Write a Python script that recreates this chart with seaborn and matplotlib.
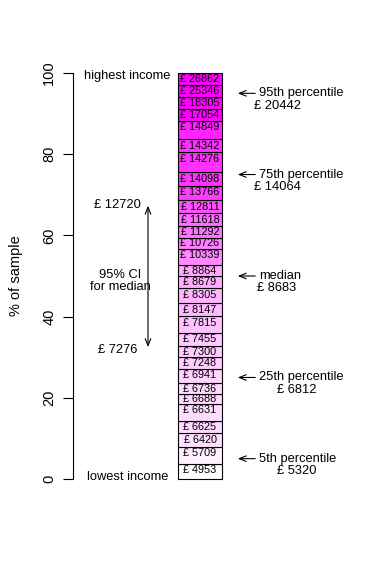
import numpy as np
import matplotlib
matplotlib.use("Agg")
import matplotlib.pyplot as plt
import seaborn as sns
from matplotlib.colors import LinearSegmentedColormap, Normalize

### incomes of the sample, lowest to highest, with the % of sample at the top of each box
incomes = [4953, 5709, 6420, 6625, 6631, 6688, 6736, 6941, 7248, 7300,
           7455, 7815, 8147, 8305, 8679, 8864, 10339, 10726, 11292, 11618,
           12811, 13766, 14098, 14276, 14342, 14849, 17054, 18305, 25346, 26862]
box_tops = [3.7, 7.9, 11.3, 14.3, 18.5, 20.9, 23.6, 27.1, 30.0, 32.8,
            36.0, 40.1, 43.3, 47.0, 50.0, 52.7, 56.7, 59.4, 62.3, 65.5,
            68.7, 72.2, 75.6, 80.5, 83.7, 88.2, 91.1, 94.1, 97.0, 100.0]

### percentiles shown on the right
pct_labels = ["5th percentile", "25th percentile", "median", "75th percentile", "95th percentile"]
pct_pos = [5, 25, 50, 75, 95]
pct_values = [5320, 6812, 8683, 14064, 20442]

### confidence interval for the median
ci_pos = [31.8, 68.0]
ci_values = [7276, 12720]

sns.set_style("white")
plt.rcParams['font.family'] = ['Liberation Sans', 'DejaVu Sans']
plt.rcParams['text.color'] = 'black'
plt.rcParams['ytick.color'] = 'black'
plt.rcParams['axes.labelcolor'] = 'black'

fig = plt.figure(figsize=(3.91, 5.75), dpi=100)
ax = fig.add_axes([73/391, (575-495.2)/575, (385-73)/391, 438.4/575])
ax.set_xlim(73, 385)
ax.set_ylim(-4, 104)

tops = np.array(box_tops)
bottoms = np.concatenate([[0], tops[:-1]])
cmap = LinearSegmentedColormap.from_list("white_magenta", ["#ffffff", "#ff00ff"])
norm = Normalize(vmin=5000, vmax=16500, clip=True)

ax.bar(200, tops - bottoms, bottom=bottoms, width=44, color=cmap(norm(incomes)),
       edgecolor="black", linewidth=0.8, align="center")

#### labels in each box, close to the top of the box
for inc, t, b in zip(incomes, tops, bottoms):
    y = max(t - 1.6, (t + b) / 2)
    ax.text(200, y, "£ " + str(inc), ha="center", va="center", fontsize=7.8, color="black")

ax.text(127, 99.2, "highest income", ha="center", va="center", fontsize=9.3)
ax.text(128, 0.6, "lowest income", ha="center", va="center", fontsize=9.3)

#### percentiles with arrows on the right
value_x = {5: 297, 25: 297, 50: 277, 75: 277, 95: 277}
for lab, p, v in zip(pct_labels, pct_pos, pct_values):
    ax.annotate("", xy=(235, p), xytext=(258, p),
                arrowprops=dict(arrowstyle="->,head_length=0.5,head_width=0.2", lw=0.8, color="black"))
    ax.text(259, p, lab, ha="left", va="center", fontsize=9.3)
    ax.text(value_x[p], p - 3.0, "£ " + str(v), ha="center", va="center", fontsize=9.3)

#### CI for the median on the left
ax.annotate("", xy=(148, ci_pos[1]), xytext=(148, ci_pos[0]),
            arrowprops=dict(arrowstyle="<->,head_length=0.5,head_width=0.2", lw=0.8, color="black"))
ax.text(141, ci_pos[1] - 0.5, "£ " + str(ci_values[1]), ha="right", va="center", fontsize=9.3)
ax.text(137, ci_pos[0], "£ " + str(ci_values[0]), ha="right", va="center", fontsize=9.3)
ax.text(120, 50.2, "95% CI", ha="center", va="center", fontsize=9.3)
ax.text(120, 47.4, "for median", ha="center", va="center", fontsize=9.3)

#### axis in R style
ax.set_yticks([0, 20, 40, 60, 80, 100])
ax.set_yticklabels(["0", "20", "40", "60", "80", "100"], rotation=90, va="center", fontsize=10.5)
ax.tick_params(axis="y", left=True, length=7, width=0.8, pad=5, color="black", labelcolor="black")
ax.set_xticks([])
for s in ["top", "right", "bottom"]:
    ax.spines[s].set_visible(False)
ax.spines["left"].set_bounds(0, 100)
ax.spines["left"].set_color("black")
ax.spines["left"].set_linewidth(0.8)
ax.set_ylabel("% of sample", fontsize=10.5, labelpad=14, color="black")
ax.patch.set_alpha(0)

fig.savefig("out.png", dpi=100)
plt.close()
